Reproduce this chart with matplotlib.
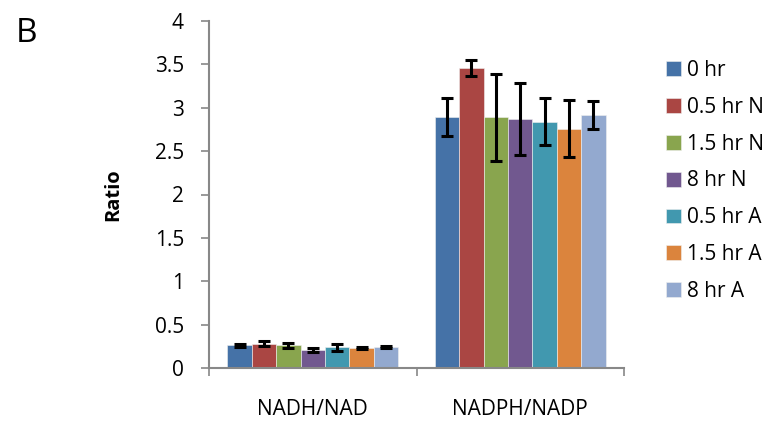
import numpy as np
import matplotlib
matplotlib.use("Agg")
from matplotlib import pyplot as plt

categories = ["NADH/NAD", "NADPH/NADP"]
series = ["0 hr", "0.5 hr N", "1.5 hr N", "8 hr N", "0.5 hr A", "1.5 hr A", "8 hr A"]
colors = ["#4572A7", "#AA4643", "#89A54E", "#71588F", "#4198AF", "#DB843D", "#93A9CF"]
# values per series: [NADH/NAD, NADPH/NADP]
values = [
    [0.26, 2.89],
    [0.28, 3.46],
    [0.26, 2.89],
    [0.21, 2.87],
    [0.24, 2.84],
    [0.23, 2.76],
    [0.24, 2.92],
]
errors = [
    [0.02, 0.22],
    [0.03, 0.09],
    [0.027, 0.50],
    [0.02, 0.42],
    [0.04, 0.27],
    [0.01, 0.33],
    [0.015, 0.16],
]
yticks = [0, 0.5, 1, 1.5, 2, 2.5, 3, 3.5, 4]
ytick_labels = ["0", "0.5", "1", "1.5", "2", "2.5", "3", "3.5", "4"]

plt.rcParams['font.family'] = ['Open Sans', 'DejaVu Sans']

fig = plt.figure(figsize=(7.77, 4.21), dpi=100)
ax = fig.add_axes([209 / 777, 1 - 368 / 421, (624 - 209) / 777, (368 - 21) / 421])

x = np.arange(len(categories))
w = 0.1176
for i, name in enumerate(series):
    pos = x + (i - 3) * w
    ax.bar(pos, values[i], width=w, color=colors[i], edgecolor="#f0f0f0",
           linewidth=0.4, label=name, zorder=2)
    ax.errorbar(pos, values[i], yerr=errors[i], fmt="none", ecolor="black",
                elinewidth=2.2, capsize=4, capthick=2.2, zorder=3)

ax.set_xlim(-0.5, 1.5)
ax.set_ylim(0, 4)
ax.set_yticks(yticks)
ax.set_yticklabels(ytick_labels, fontsize=15)
ax.set_xticks([-0.5, 0.5, 1.5])
ax.set_xticklabels([])
ax.set_xticks(x, minor=True)
ax.set_xticklabels(categories, minor=True, fontsize=15)
ax.tick_params(axis="x", which="minor", length=0, pad=22)
ax.tick_params(axis="x", which="major", length=6, color="#888888", width=1.2)
ax.tick_params(axis="y", length=6, color="#888888", width=1.2, pad=12)

for side in ["top", "right"]:
    ax.spines[side].set_visible(False)
for side in ["left", "bottom"]:
    ax.spines[side].set_color("#888888")
    ax.spines[side].set_linewidth(1.5)

ax.set_ylabel("Ratio", fontsize=14.5, fontweight="bold")
ax.yaxis.set_label_coords((123 - 209) / 415, 0.499)

fig.text(16 / 777, 1 - 42 / 421, "B", fontsize=24)

ax.legend(loc="upper left", bbox_to_anchor=(666 / 777, 1 - 60 / 421),
          bbox_transform=fig.transFigure, frameon=False, fontsize=15,
          handlelength=0.72, handleheight=0.72, handletextpad=0.3,
          labelspacing=0.76, borderaxespad=0, borderpad=0)

fig.savefig("out.png", dpi=100)
